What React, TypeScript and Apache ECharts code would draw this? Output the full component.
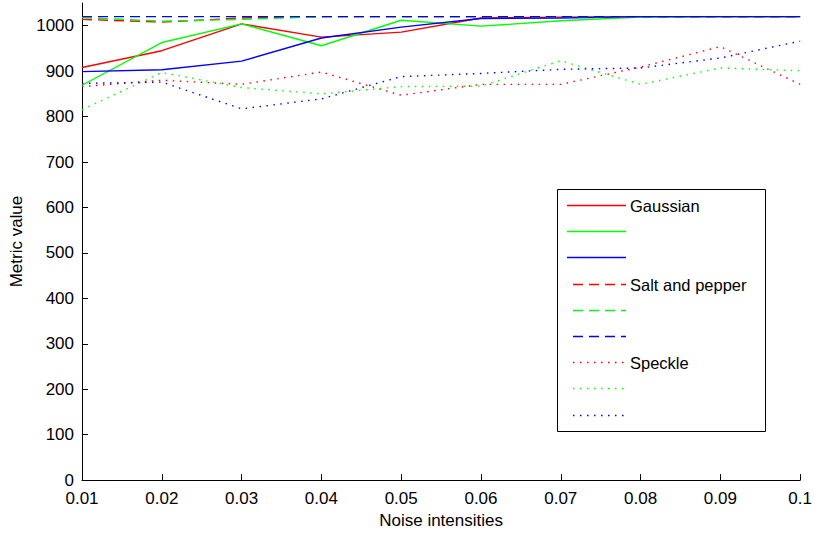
import React, { useEffect, useRef } from "react";
import * as echarts from "echarts";

// Noise intensity levels on the x axis
const intensities = ["0.01", "0.02", "0.03", "0.04", "0.05", "0.06", "0.07", "0.08", "0.09", "0.1"];

// Gaussian noise (solid lines)
const gaussianRed = [908, 945, 1004, 975, 986, 1017, 1019, 1020, 1020, 1020];
const gaussianGreen = [869, 963, 1004, 956, 1012, 999, 1011, 1019, 1020, 1020];
const gaussianBlue = [899, 903, 922, 973, 997, 1016, 1017, 1020, 1020, 1020];

// Salt and pepper noise (dashed lines)
const saltRed = [1014, 1008, 1017, 1020, 1020, 1020, 1020, 1020, 1020, 1020];
const saltGreen = [1018, 1010, 1014, 1020, 1020, 1020, 1020, 1020, 1020, 1020];
const saltBlue = [1020, 1020, 1020, 1020, 1020, 1020, 1020, 1020, 1020, 1020];

// Speckle noise (dotted lines)
const speckleRed = [866, 880, 871, 898, 847, 871, 871, 909, 954, 871];
const speckleGreen = [815, 897, 864, 850, 866, 867, 923, 871, 907, 901];
const speckleBlue = [873, 876, 817, 839, 888, 895, 904, 907, 929, 966];

const yTicks = [0, 100, 200, 300, 400, 500, 600, 700, 800, 900, 1000];

const RED = "#ff0000";
const GREEN = "#00ff00";
const BLUE = "#0000ff";

const DASHED = [10, 6];
const DOTTED = [1.5, 5.5];

type Line = { label: string; color: string; dash: number[] | "solid"; data: number[] };

const lines: Line[] = [
  { label: "Gaussian", color: RED, dash: "solid", data: gaussianRed },
  { label: "", color: GREEN, dash: "solid", data: gaussianGreen },
  { label: "", color: BLUE, dash: "solid", data: gaussianBlue },
  { label: "Salt and pepper", color: RED, dash: DASHED, data: saltRed },
  { label: "", color: GREEN, dash: DASHED, data: saltGreen },
  { label: "", color: BLUE, dash: DASHED, data: saltBlue },
  { label: "Speckle", color: RED, dash: DOTTED, data: speckleRed },
  { label: "", color: GREEN, dash: DOTTED, data: speckleGreen },
  { label: "", color: BLUE, dash: DOTTED, data: speckleBlue },
];

const FONT = "'Liberation Sans', Arial, sans-serif";

function buildLegend() {
  const boxX = 557.5;
  const boxY = 189.5;
  const rowTop = 205;
  const rowStep = 26.2;
  const children: any[] = [
    {
      type: "rect",
      shape: { x: boxX, y: boxY, width: 208, height: 242 },
      style: { fill: "#fff", stroke: "#000", lineWidth: 1 },
    },
  ];
  lines.forEach((l, i) => {
    const y = Math.round(rowTop + i * rowStep) + 0.5;
    children.push({
      type: "line",
      shape: { x1: l.dash === "solid" ? 567 : 573, y1: y, x2: 626, y2: y },
      style: {
        stroke: l.color,
        lineWidth: 1.3,
        lineDash: l.dash === "solid" ? null : l.dash,
      },
    });
    if (l.label) {
      children.push({
        type: "text",
        x: 630,
        y,
        style: {
          text: l.label,
          fill: "#000",
          font: `16.5px ${FONT}`,
          verticalAlign: "middle",
          align: "left",
        },
      });
    }
  });
  return [{ type: "group", z: 100, children }];
}

export default function App() {
  const ref = useRef<HTMLDivElement>(null);

  useEffect(() => {
    if (!ref.current) return;
    const chart = echarts.init(ref.current, undefined, { renderer: "svg" });
    chart.setOption({
      animation: false,
      backgroundColor: "#fff",
      grid: { left: 82, right: 10, top: 3, bottom: 50, containLabel: false },
      xAxis: {
        type: "category",
        data: intensities,
        boundaryGap: false,
        name: "Noise intensities",
        nameLocation: "middle",
        nameGap: 30,
        nameTextStyle: { color: "#000", fontSize: 17, fontFamily: FONT },
        axisLine: { lineStyle: { color: "#000", width: 1 } },
        axisTick: { inside: true, length: 6, alignWithLabel: true, lineStyle: { color: "#000" } },
        axisLabel: { color: "#000", fontSize: 17, fontFamily: FONT, margin: 10 },
        splitLine: { show: false },
      },
      yAxis: {
        type: "value",
        min: 0,
        max: 1050,
        interval: 100,
        name: "Metric value",
        nameLocation: "middle",
        nameGap: 56,
        nameTextStyle: { color: "#000", fontSize: 17, fontFamily: FONT },
        axisLine: { show: true, lineStyle: { color: "#000", width: 1 } },
        axisTick: { show: true, inside: true, length: 6, customValues: yTicks, lineStyle: { color: "#000" } },
        axisLabel: {
          color: "#000",
          fontSize: 17,
          fontFamily: FONT,
          margin: 8,
          customValues: yTicks,
          formatter: (v: number) => String(v),
        },
        splitLine: { show: false },
      },
      series: lines.map((l, i) => ({
        type: "line",
        name: `s${i}`,
        data: l.data,
        symbol: "none",
        z: 2 + i * 0.01,
        lineStyle: {
          color: l.color,
          width: 1.4,
          type: l.dash === "solid" ? "solid" : l.dash,
          cap: "butt",
        },
      })),
      graphic: buildLegend(),
    });
    return () => chart.dispose();
  }, []);

  return (
    <div
      ref={ref}
      style={{ position: "fixed", left: 0, top: 0, width: 815, height: 534 }}
    />
  );
}
